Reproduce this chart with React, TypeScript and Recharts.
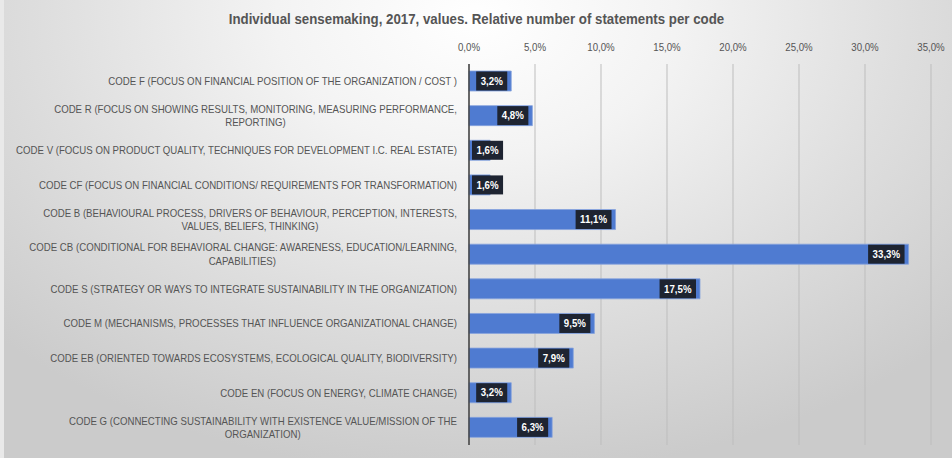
import React from 'react';
import { BarChart, Bar, XAxis, YAxis, CartesianGrid, LabelList } from 'recharts';

const chartTitle = 'Individual sensemaking, 2017, values. Relative number of statements per code';

const categories = [
  'CODE F (FOCUS ON FINANCIAL POSITION OF THE ORGANIZATION / COST )',
  'CODE R (FOCUS ON SHOWING RESULTS, MONITORING, MEASURING PERFORMANCE,\nREPORTING)',
  'CODE V (FOCUS ON PRODUCT QUALITY, TECHNIQUES FOR DEVELOPMENT I.C. REAL ESTATE)',
  'CODE CF (FOCUS ON FINANCIAL CONDITIONS/ REQUIREMENTS FOR TRANSFORMATION)',
  'CODE B (BEHAVIOURAL PROCESS, DRIVERS OF BEHAVIOUR, PERCEPTION, INTERESTS,\nVALUES, BELIEFS, THINKING)',
  'CODE CB (CONDITIONAL FOR BEHAVIORAL CHANGE: AWARENESS, EDUCATION/LEARNING,\nCAPABILITIES)',
  'CODE S (STRATEGY OR WAYS TO INTEGRATE SUSTAINABILITY IN THE ORGANIZATION)',
  'CODE M (MECHANISMS, PROCESSES THAT INFLUENCE ORGANIZATIONAL CHANGE)',
  'CODE EB (ORIENTED TOWARDS ECOSYSTEMS, ECOLOGICAL QUALITY, BIODIVERSITY)',
  'CODE EN (FOCUS ON ENERGY, CLIMATE CHANGE)',
  'CODE G (CONNECTING SUSTAINABILITY WITH EXISTENCE VALUE/MISSION OF THE\nORGANIZATION)',
];

const shares = [3.2, 4.8, 1.6, 1.6, 11.1, 33.3, 17.5, 9.5, 7.9, 3.2, 6.3];

const xTicks = [0, 5, 10, 15, 20, 25, 30, 35];

const data = categories.map((name, i) => ({ name, value: shares[i] }));

const FONT = '"Liberation Sans", Arial, sans-serif';
const TEXT_GRAY = '#555555';
const LABEL_SIZE = 10.5;
const LABEL_SQUEEZE = 0.92;
const TICK_SQUEEZE = 0.88;
const TITLE_SQUEEZE = 0.95;
const BOX_SQUEEZE = 0.88;

let ctx: CanvasRenderingContext2D | null = null;
function measure(text: string, font: string): number {
  if (!ctx) ctx = document.createElement('canvas').getContext('2d');
  if (!ctx) return text.length * 5;
  ctx.font = font;
  return ctx.measureText(text).width;
}

const fmt = (v: number) => `${v.toFixed(1).replace('.', ',')}%`;

const CategoryTick = (props: any) => {
  const { x, y, payload } = props;
  const lines = String(payload.value).split('\n');
  const font = `${LABEL_SIZE}px ${FONT}`;
  const widths = lines.map((l) => measure(l, font) * LABEL_SQUEEZE);
  const blockW = Math.max(...widths);
  const lh = 13.4;
  const startY = y - ((lines.length - 1) * lh) / 2;
  return (
    <g>
      {lines.map((l, i) => {
        const lineRight = x - (blockW - widths[i]) / 2;
        return (
          <text
            key={i}
            x={0}
            y={0}
            transform={`translate(${lineRight},${startY + i * lh}) scale(${LABEL_SQUEEZE},1)`}
            textAnchor="end"
            dominantBaseline="central"
            fontFamily={FONT}
            fontSize={LABEL_SIZE}
            fill={TEXT_GRAY}
          >
            {l}
          </text>
        );
      })}
    </g>
  );
};

const ValueTick = (props: any) => {
  const { x, y, payload } = props;
  const t = fmt(payload.value);
  return (
    <text
      x={0}
      y={0}
      transform={`translate(${x},${y}) scale(${TICK_SQUEEZE},1)`}
      textAnchor="middle"
      fontFamily={FONT}
      fontSize={11}
      fill={TEXT_GRAY}
    >
      {t}
    </text>
  );
};

const ValueBox = (props: any) => {
  const { x, y, width, height, value } = props;
  const text = fmt(Number(value));
  const font = `bold 11px ${FONT}`;
  const tw = measure(text, font) * BOX_SQUEEZE;
  const bw = tw + 9;
  const bh = 19;
  const end = x + width - 4;
  const bx = Math.max(x + 3, end - bw);
  const by = y + height / 2 - bh / 2;
  return (
    <g>
      <rect x={bx} y={by} width={bw} height={bh} fill="#1e2431" />
      <text
        x={0}
        y={0}
        transform={`translate(${bx + bw / 2},${by + bh / 2}) scale(${BOX_SQUEEZE},1)`}
        textAnchor="middle"
        dominantBaseline="central"
        fontFamily={FONT}
        fontWeight="bold"
        fontSize={11}
        fill="#ffffff"
      >
        {text}
      </text>
    </g>
  );
};

const Title = () => (
  <svg width={952} height={40} style={{ position: 'absolute', left: 0, top: 0 }}>
    <text
      x={0}
      y={0}
      transform={`translate(476.5,19) scale(${TITLE_SQUEEZE},1)`}
      textAnchor="middle"
      dominantBaseline="central"
      fontFamily={FONT}
      fontWeight="bold"
      fontSize={14}
      fill={TEXT_GRAY}
    >
      {chartTitle}
    </text>
  </svg>
);

export default function App() {
  return (
    <div
      style={{
        position: 'absolute',
        left: 0,
        top: 0,
        width: 952,
        height: 458,
        background:
          'radial-gradient(ellipse 70% 100% at 50% 4%, #ffffff 0%, #f3f3f3 30%, #dedede 65%, #cbcbcb 100%)',
        fontFamily: FONT,
      }}
    >
      <div
        style={{
          position: 'absolute',
          left: 0,
          top: 0,
          width: 4,
          height: 458,
          background: '#e9e9e9',
        }}
      />
      <BarChart
        width={952}
        height={458}
        data={data}
        layout="vertical"
        margin={{ top: 34, right: 21, bottom: 13, left: 0 }}
        style={{ position: 'absolute', left: 0, top: 0 }}
      >
        <CartesianGrid horizontal={false} stroke="#bdbdbd" strokeWidth={1} />
        <XAxis
          type="number"
          orientation="top"
          domain={[0, 35]}
          ticks={xTicks}
          height={30}
          axisLine={false}
          tickLine={false}
          tickSize={0}
          tickMargin={13}
          tick={<ValueTick />}
          interval={0}
        />
        <YAxis
          type="category"
          dataKey="name"
          width={469}
          axisLine={{ stroke: '#404040', strokeWidth: 1.5 }}
          tickLine={false}
          tickSize={0}
          tickMargin={12}
          tick={<CategoryTick />}
          interval={0}
        />
        <Bar
          dataKey="value"
          fill="#4f7bd1"
          stroke="#86a3dd"
          strokeWidth={0.8}
          barSize={20}
          isAnimationActive={false}
        >
          <LabelList dataKey="value" content={<ValueBox />} />
        </Bar>
      </BarChart>
      <Title />
    </div>
  );
}
